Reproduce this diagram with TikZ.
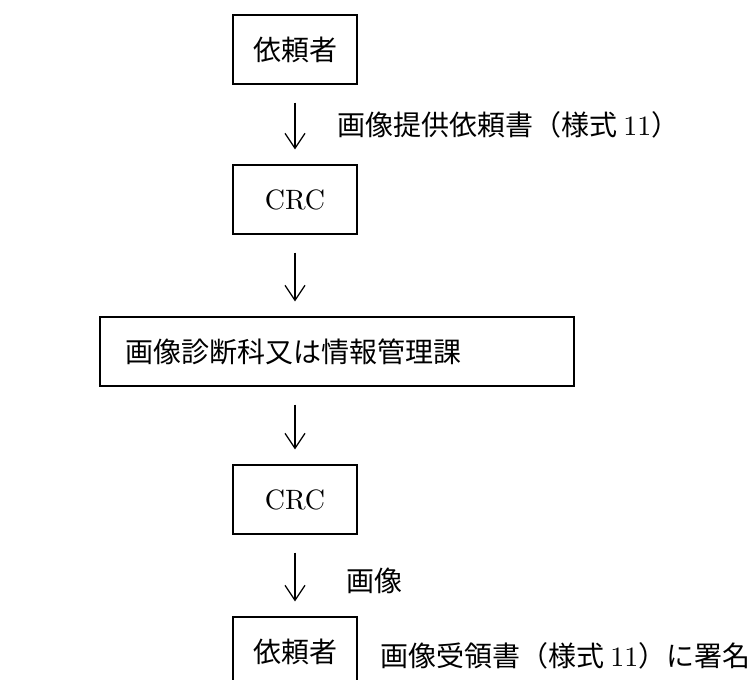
\documentclass[tikz,border=0pt]{standalone}
\usepackage{fontspec}
\newfontfamily\jp{Noto Sans CJK JP}
\newfontfamily\lmten[Extension=.otf]{lmroman10-regular}
\usetikzlibrary{arrows.meta}
\begin{document}
\begin{tikzpicture}[x=1pt,y=-1pt,
  box/.style={draw, line width=1.2pt, minimum width=124pt, minimum height=69pt,
    inner sep=0pt, font=\fontsize{28}{32}\selectfont\jp},
  lbl/.style={anchor=west, inner sep=0pt, font=\fontsize{28}{32}\selectfont\jp},
  arr/.style={draw, line width=1.2pt, -{Straight Barb[length=15pt,width=20pt]},
    shorten <=18pt, shorten >=15pt}]
\useasboundingbox (0,0) rectangle (750,680);
\clip (0,0) rectangle (750,680);
\node[box] (b1) at (295,49.5) {依頼者};
\node[box] (b2) at (295,199.5) {\lmten CRC};
\node[box, minimum width=474pt, text width=424pt, inner xsep=25pt, align=left] (b3) at (337,351.5) {画像診断科又は情報管理課};
\node[box] (b4) at (295,499.5) {\lmten CRC};
\node[box] (b5) at (295,651.5) {依頼者};
\node[lbl] (l1) at (337,125) {画像提供依頼書（様式 {\lmten 11}）};
\node[lbl] (l2) at (346,581) {画像};
\node[lbl] (l3) at (380,656) {画像受領書（様式 {\lmten 11}）に署名};
\draw[arr] (b1.south) -- (b2.north);
\draw[arr] (b2.south) -- (b2.south |- b3.north);
\draw[arr] (b2.south |- b3.south) -- (b4.north);
\draw[arr] (b4.south) -- (b5.north);
\end{tikzpicture}
\end{document}
